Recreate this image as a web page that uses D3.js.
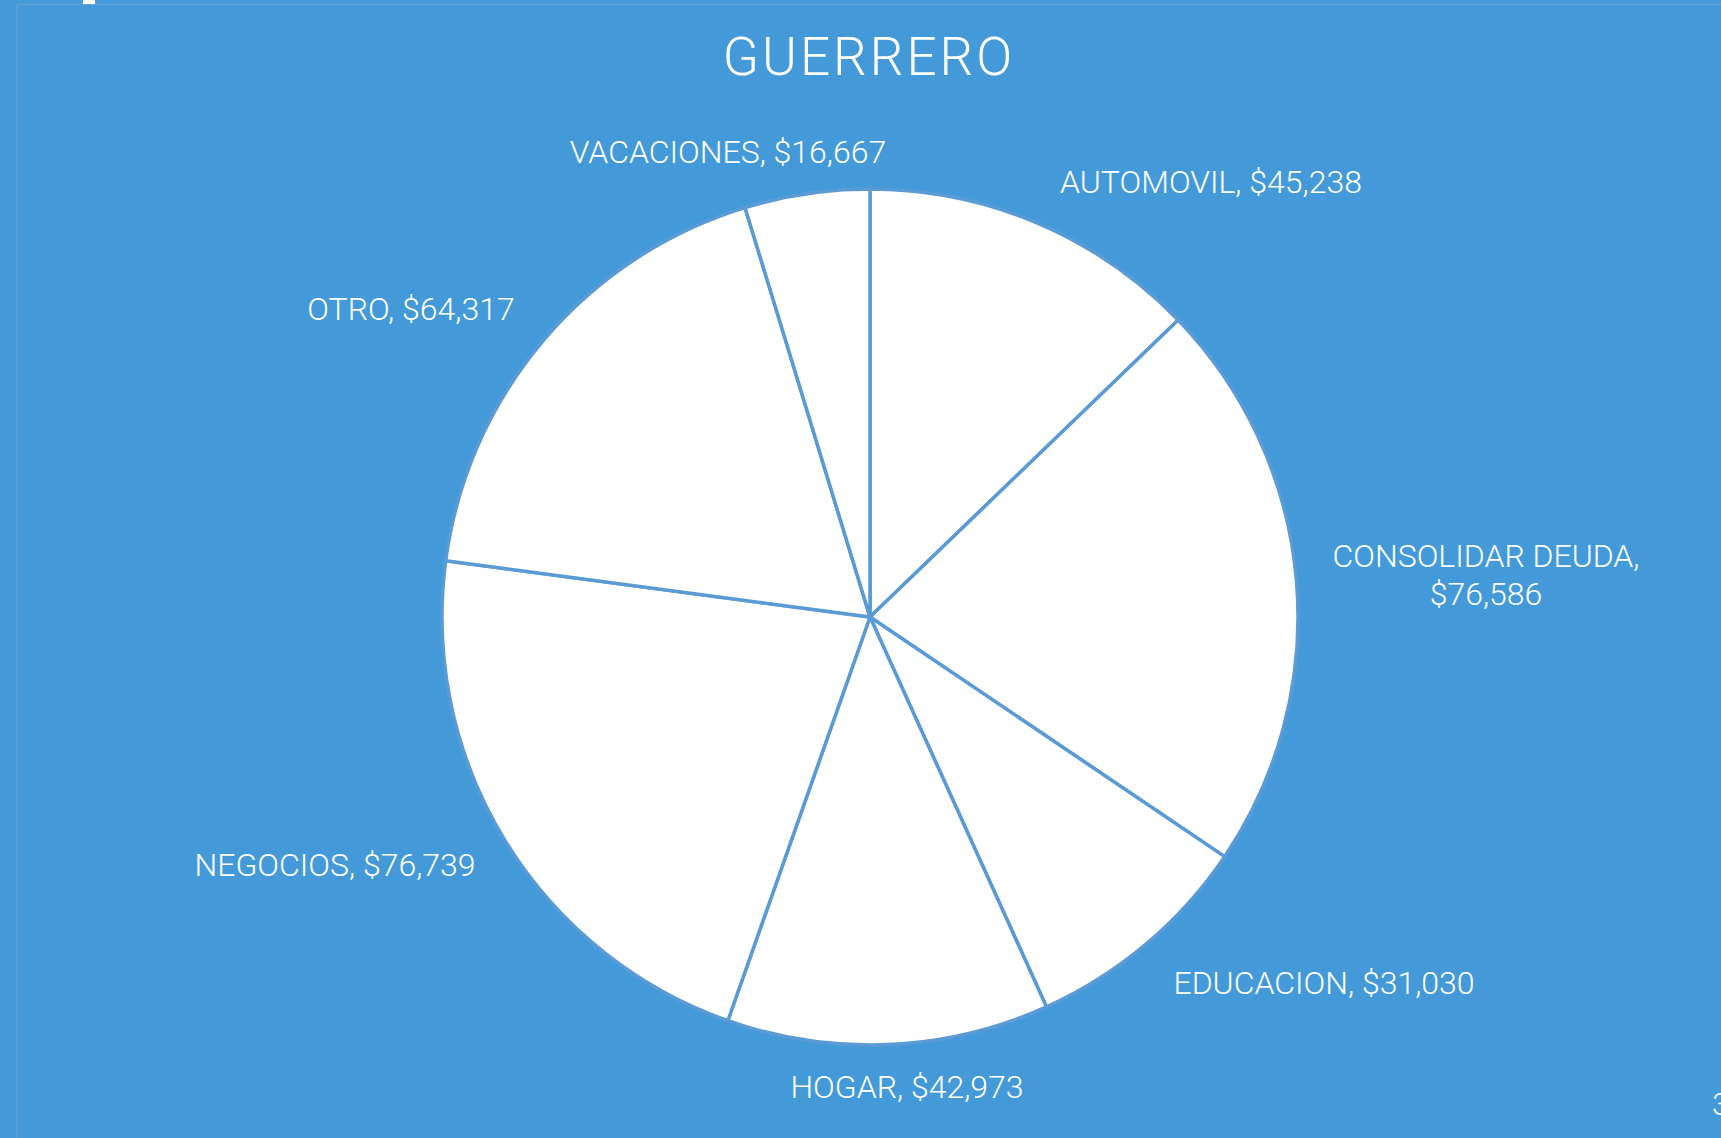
<!DOCTYPE html>
<html>
<head>
<meta charset="utf-8">
<script src="https://cdn.jsdelivr.net/npm/d3@7"></script>
<style>
  html, body { margin: 0; padding: 0; background: #449ad9; overflow: hidden; }
  svg { display: block; }
  text { font-family: Roboto, "Noto Sans", sans-serif; font-weight: 300; fill: #ffffff; }
</style>
</head>
<body>
<svg id="chart" width="1721" height="1138"></svg>
<script>
// ---- data ----
const title = "GUERRERO";
const categories = ["AUTOMOVIL", "CONSOLIDAR DEUDA", "EDUCACION", "HOGAR", "NEGOCIOS", "OTRO", "VACACIONES"];
const values = [45238, 76586, 31030, 42973, 76739, 64317, 16667];

// ---- layout (label centers / baselines, not data) ----
const labelLayout = [
  { x: 1211, y: 193, lines: 1 },
  { x: 1486, y: 567, lines: 2 },
  { x: 1324, y: 994, lines: 1 },
  { x: 907,  y: 1098, lines: 1 },
  { x: 335,  y: 876, lines: 1 },
  { x: 411,  y: 320, lines: 1 },
  { x: 728,  y: 163, lines: 1 }
];

const W = 1721, H = 1138;
const cx = 870, cy = 617, R = 428;
const svg = d3.select("#chart");

svg.append("rect").attr("width", W).attr("height", H).attr("fill", "#449ad9");
// frame lines
svg.append("line").attr("x1", 17).attr("y1", 4.5).attr("x2", W).attr("y2", 4.5)
  .attr("stroke", "#5d9fd6").attr("stroke-width", 1.5);
svg.append("line").attr("x1", 17).attr("y1", 4.5).attr("x2", 17).attr("y2", H)
  .attr("stroke", "#5d9fd6").attr("stroke-width", 1.5);
svg.append("rect").attr("x", 83).attr("y", 0).attr("width", 12).attr("height", 4).attr("fill", "#ffffff");

svg.append("text").attr("x", 869).attr("y", 75).attr("text-anchor", "middle")
  .style("font-size", "53px").style("letter-spacing", "3px").text(title);

const fmt = d3.format("$,");
const pie = d3.pie().sort(null).value(d => d.value);
const data = categories.map((c, i) => ({ cat: c, value: values[i] }));
const arcs = pie(data);
const arc = d3.arc().innerRadius(0).outerRadius(R);

const g = svg.append("g").attr("transform", `translate(${cx},${cy})`);
g.selectAll("path").data(arcs).join("path")
  .attr("d", arc)
  .attr("fill", "#ffffff")
  .attr("stroke", "#5b9bd5")
  .attr("stroke-width", 3.5)
  .attr("stroke-linejoin", "round");

arcs.forEach((a, i) => {
  const L = labelLayout[i];
  const t = svg.append("text").attr("text-anchor", "middle").style("font-size", "32px");
  if (L.lines === 2) {
    t.append("tspan").attr("x", L.x).attr("y", L.y).text(a.data.cat + ",");
    t.append("tspan").attr("x", L.x).attr("y", L.y + 37.5).text(fmt(a.data.value));
  } else {
    t.attr("x", L.x).attr("y", L.y).text(a.data.cat + ", " + fmt(a.data.value));
  }
});

svg.append("text").attr("x", 1712).attr("y", 1115).style("font-size", "32px").text("3");
</script>
</body>
</html>
